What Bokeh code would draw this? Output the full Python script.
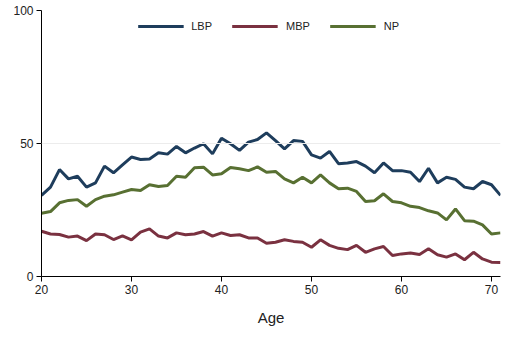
from bokeh.plotting import figure
from bokeh.embed import file_html
from bokeh.resources import INLINE
from bokeh.models import FixedTicker, Legend, LegendItem, Span

age = list(range(20, 72))
lbp = [30.5, 33.6, 40.2, 36.7, 37.7, 33.6, 35.2, 41.5, 39.0, 42.0,
       44.9, 44.0, 44.2, 46.5, 46.0, 48.9, 46.5, 48.3, 49.9, 46.1,
       52.0, 49.9, 47.4, 50.5, 51.5, 54.0, 51.1, 48.0, 51.1, 50.8,
       45.7, 44.5, 47.0, 42.4, 42.7, 43.2, 41.5, 39.0, 42.7, 39.8,
       39.8, 39.2, 35.7, 40.7, 35.2, 37.3, 36.5, 33.6, 33.0, 35.7,
       34.5, 30.5]
mbp = [17.0, 16.0, 15.8, 14.8, 15.2, 13.5, 16.0, 15.7, 13.9, 15.3,
       13.8, 16.7, 17.9, 15.2, 14.5, 16.4, 15.7, 16.0, 16.9, 15.2,
       16.4, 15.4, 15.7, 14.5, 14.5, 12.5, 12.9, 13.8, 13.2, 12.9,
       11.0, 13.8, 11.7, 10.6, 10.1, 11.7, 9.1, 10.4, 11.3, 7.9,
       8.5, 8.8, 8.3, 10.4, 8.2, 7.3, 8.5, 6.3, 9.1, 6.6,
       5.4, 5.3]
np_ = [23.8, 24.4, 27.7, 28.6, 28.9, 26.4, 28.9, 30.2, 30.7, 31.7,
       32.7, 32.3, 34.5, 33.8, 34.2, 37.7, 37.3, 40.9, 41.1, 38.2,
       38.6, 41.0, 40.5, 39.8, 41.2, 39.2, 39.5, 36.7, 35.2, 37.3,
       35.2, 38.2, 35.2, 33.0, 33.2, 32.0, 28.2, 28.5, 31.1, 28.2,
       27.7, 26.4, 25.9, 24.7, 23.9, 21.3, 25.4, 21.0, 20.8, 19.4,
       16.0, 16.4]
series_names = ["LBP", "MBP", "NP"]
x_ticks = [20, 30, 40, 50, 60, 70]
y_ticks = [0, 50, 100]

colors = ["#1e3d5c", "#7a3140", "#587032"]

p = figure(width=515, height=353, output_backend="svg", toolbar_location=None,
           x_range=(20, 71), y_range=(0, 100),
           min_border_left=41, min_border_right=15, min_border_top=10,
           min_border_bottom=77)
p.background_fill_color = "white"
p.border_fill_color = "white"
p.outline_line_color = None
p.xgrid.visible = False
p.ygrid.visible = False
p.add_layout(Span(location=50, dimension="width", line_color="#ececec", line_width=1))

renderers = []
for ys, c in zip([lbp, mbp, np_], colors):
    r = p.line(age, ys, line_color=c, line_width=3)
    renderers.append(r)

legend = Legend(items=[LegendItem(label=n, renderers=[r]) for n, r in zip(series_names, renderers)],
                orientation="horizontal", location="top_center",
                glyph_width=46, glyph_height=10, label_standoff=8, spacing=20,
                padding=0, margin=10,
                border_line_alpha=0, background_fill_alpha=0,
                label_text_font="Liberation Sans", label_text_font_size="11px",
                label_text_color="#222222")
p.add_layout(legend)

for ax in (p.xaxis, p.yaxis):
    ax.axis_line_color = "black"
    ax.axis_line_width = 1
    ax.major_tick_line_color = "black"
    ax.major_tick_out = 5
    ax.major_tick_in = 0
    ax.minor_tick_line_color = None
    ax.major_label_text_font = "Liberation Sans"
    ax.major_label_text_font_size = "12px"
    ax.major_label_text_color = "#222222"

p.xaxis.ticker = FixedTicker(ticks=x_ticks)
p.yaxis.ticker = FixedTicker(ticks=y_ticks)
p.xaxis.major_label_standoff = 3
p.yaxis.major_label_standoff = 3
p.yaxis.major_label_orientation = "horizontal"
p.xaxis.axis_label = "Age"
p.xaxis.axis_label_text_font = "Liberation Sans"
p.xaxis.axis_label_text_font_size = "15px"
p.xaxis.axis_label_text_font_style = "normal"
p.xaxis.axis_label_text_color = "#222222"
p.xaxis.axis_label_standoff = 12

open("out.html", "w").write(file_html(p, INLINE))
